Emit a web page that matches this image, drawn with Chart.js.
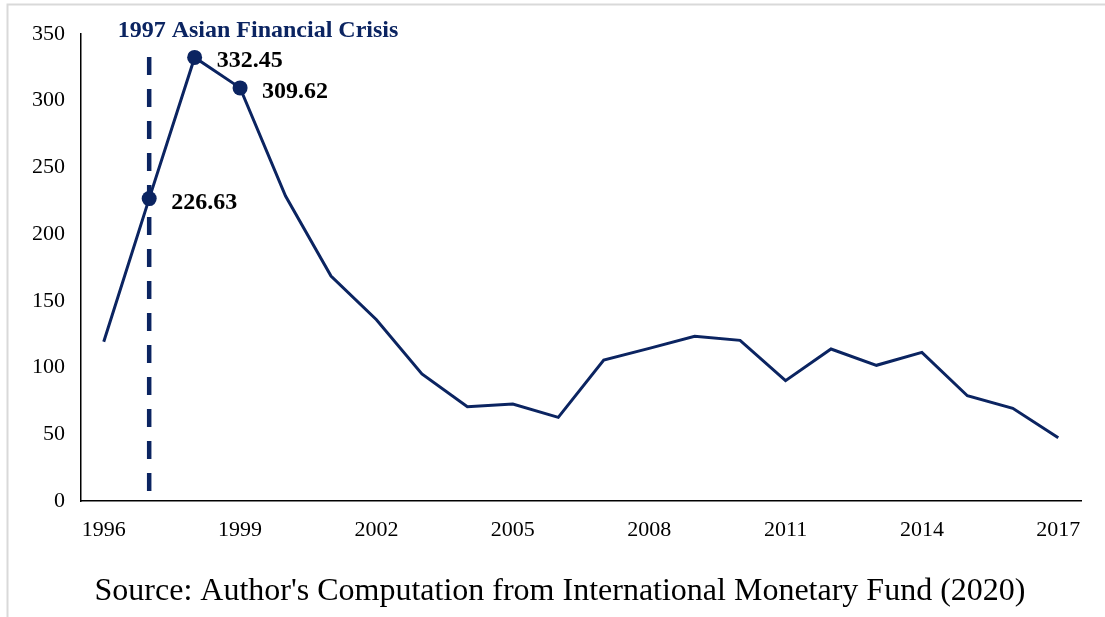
<!DOCTYPE html>
<html>
<head>
<meta charset="utf-8">
<script src="https://cdn.jsdelivr.net/npm/chart.js@4"></script>
<style>
  html, body { margin: 0; padding: 0; background: #fff; }
  #wrap { width: 1105px; height: 617px; position: relative; }
</style>
</head>
<body>
<div id="wrap"><canvas id="myChart"></canvas></div>
<script>
const years = ['1996','1997','1998','1999','2000','2001','2002','2003','2004','2005','2006',
               '2007','2008','2009','2010','2011','2012','2013','2014','2015','2016','2017'];
const values = [119.4, 226.63, 332.45, 309.62, 228.6, 168.6, 135.9, 95.2, 70.7, 72.7, 62.7,
                105.7, 114.4, 123.4, 120.4, 90.2, 113.9, 101.7, 111.4, 78.9, 69.5, 47.4];
const shownYears = ['1996','1999','2002','2005','2008','2011','2014','2017'];
const markedYears = ['1997','1998','1999'];
const crisisYear = '1997';
const crisisLabel = '1997 Asian Financial Crisis';
const sourceText = "Source: Author's Computation from International Monetary Fund (2020)";

const navy = '#0b2461';
const serif = "'Liberation Serif', 'Times New Roman', serif";

const extras = {
  id: 'extras',
  beforeDraw(chart) {
    const c = chart.ctx;
    c.save();
    // light frame around the picture
    c.strokeStyle = '#d9d9d9';
    c.lineWidth = 2;
    c.beginPath();
    c.moveTo(7.5, 617);
    c.lineTo(7.5, 4.5);
    c.lineTo(1105, 4.5);
    c.stroke();
    c.restore();
  },
  afterDatasetsDraw(chart) {
    const c = chart.ctx;
    const x = chart.scales.x, y = chart.scales.y;
    const xc = x.getPixelForValue(years.indexOf(crisisYear));
    c.save();
    // dashed crisis line
    c.strokeStyle = navy;
    c.lineWidth = 4.5;
    c.setLineDash([18, 14]);
    c.beginPath();
    c.moveTo(xc, 57);
    c.lineTo(xc, y.bottom);
    c.stroke();
    c.setLineDash([]);
    // crisis title
    c.fillStyle = navy;
    c.font = 'bold 24px ' + serif;
    c.textAlign = 'center';
    c.textBaseline = 'alphabetic';
    c.fillText(crisisLabel, 258, 37);
    // value labels
    c.fillStyle = '#000';
    c.font = 'bold 24px ' + serif;
    c.textAlign = 'left';
    markedYears.forEach(yr => {
      const i = years.indexOf(yr);
      const px = x.getPixelForValue(i);
      const py = y.getPixelForValue(values[i]);
      c.fillText(values[i].toFixed(2), px + 22, py + 10);
    });
    // source line
    c.font = '32px ' + serif;
    c.textAlign = 'center';
    c.fillText(sourceText, 560, 600);
    c.restore();
  }
};

new Chart(document.getElementById('myChart'), {
  type: 'line',
  data: {
    labels: years,
    datasets: [{
      data: values,
      borderColor: navy,
      borderWidth: 3,
      tension: 0,
      pointRadius: values.map((v, i) => markedYears.includes(years[i]) ? 7.5 : 0),
      pointBackgroundColor: navy,
      pointBorderColor: navy,
      pointBorderWidth: 0
    }]
  },
  options: {
    responsive: true,
    maintainAspectRatio: false,
    animation: false,
    layout: { padding: { left: 0, right: 24, top: 34, bottom: 0 } },
    plugins: {
      legend: { display: false },
      tooltip: { enabled: false }
    },
    scales: {
      x: {
        offset: true,
        grid: { display: true, color: 'rgba(0,0,0,0)', drawTicks: false, offset: true },
        border: { display: true, color: '#000', width: 1.5 },
        ticks: {
          autoSkip: false,
          maxRotation: 0,
          padding: 16,
          color: '#000',
          font: { family: serif, size: 22 },
          callback: function (v) {
            const lab = this.getLabelForValue(v);
            return shownYears.includes(lab) ? lab : '';
          }
        },
        afterFit: s => { s.height = 116; }
      },
      y: {
        min: 0,
        max: 350,
        grid: { display: true, color: 'rgba(0,0,0,0)', drawTicks: false },
        border: { display: true, color: '#000', width: 1.5 },
        ticks: {
          stepSize: 50,
          padding: 16,
          color: '#000',
          font: { family: serif, size: 22 }
        },
        afterFit: s => { s.width = 81; }
      }
    }
  },
  plugins: [extras]
});
</script>
</body>
</html>
